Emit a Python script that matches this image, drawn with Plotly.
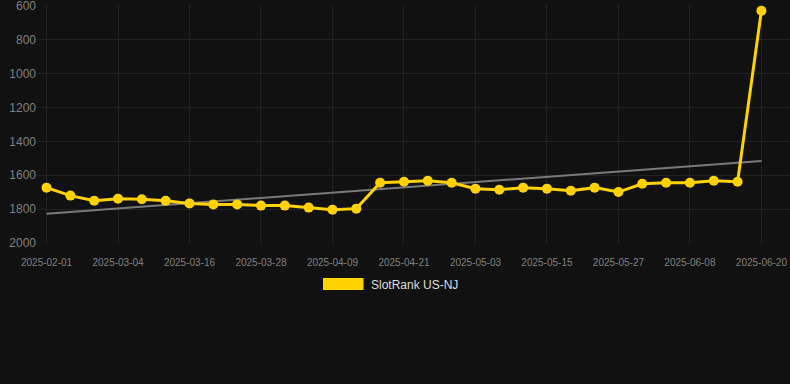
import numpy as np
import plotly.graph_objects as go

dates = ["2025-02-01", "2025-02-24", "2025-02-28", "2025-03-04", "2025-03-08", "2025-03-12",
         "2025-03-16", "2025-03-20", "2025-03-24", "2025-03-28", "2025-04-01", "2025-04-05",
         "2025-04-09", "2025-04-13", "2025-04-17", "2025-04-21", "2025-04-25", "2025-04-29",
         "2025-05-03", "2025-05-07", "2025-05-11", "2025-05-15", "2025-05-19", "2025-05-23",
         "2025-05-27", "2025-05-31", "2025-06-04", "2025-06-08", "2025-06-12", "2025-06-16",
         "2025-06-20"]
rank = [1673, 1720, 1750, 1738, 1742, 1750, 1766, 1772, 1772, 1779, 1779, 1791, 1803, 1797,
        1644, 1638, 1632, 1644, 1679, 1685, 1673, 1679, 1691, 1673, 1699, 1650, 1644, 1644,
        1632, 1638, 628]
tick_labels = dates[::3]
y_ticks = [600, 800, 1000, 1200, 1400, 1600, 1800, 2000]
series_name = "SlotRank US-NJ"

idx = np.arange(len(rank))
slope, intercept = np.polyfit(idx, rank, 1)
trend = list(slope * idx + intercept)

GOLD = "#FFD200"
W, H = 790, 384
L, R, T, B = 37, 0, 5, 140
pw, ph = W - L - R, H - T - B


def px(x):
    return (x - L) / pw


def py(y):
    return (H - B - y) / ph


fig = go.Figure()
fig.add_trace(go.Scatter(x=dates, y=trend, mode="lines",
                         line=dict(color="#7a7a7a", width=2), showlegend=False, hoverinfo="skip"))
fig.add_trace(go.Scatter(x=dates, y=rank, mode="lines+markers", name=series_name,
                         line=dict(color=GOLD, width=3), marker=dict(color=GOLD, size=10),
                         showlegend=False, cliponaxis=False))

fig.add_shape(type="rect", xref="paper", yref="paper",
              x0=px(323), x1=px(363.5), y0=py(290), y1=py(278),
              fillcolor=GOLD, line=dict(width=0))
fig.add_annotation(xref="paper", yref="paper", x=px(369), y=py(284.5), xanchor="left",
                   yanchor="middle", text=series_name, showarrow=False,
                   font=dict(family="Liberation Sans, Arial", size=12, color="#dddddd"))

fig.update_layout(
    width=W, height=H,
    margin=dict(l=L, r=R, t=T, b=B),
    paper_bgcolor="#111111", plot_bgcolor="#111111",
    font=dict(family="Liberation Sans, Arial", color="#808080"),
    xaxis=dict(type="category", categoryorder="array", categoryarray=dates,
               tickmode="array", tickvals=tick_labels, ticktext=tick_labels,
               range=[-0.4, 31.2], showgrid=True, gridcolor="#222222", gridwidth=1,
               ticks="outside", ticklen=9, tickcolor="rgba(0,0,0,0)",
               ticklabeloverflow="allow",
               zeroline=False, showline=False, tickfont=dict(size=10, color="#808080")),
    yaxis=dict(range=[2005.9, 594.1], tickmode="array", tickvals=y_ticks,
               showgrid=True, gridcolor="#222222", gridwidth=1, zeroline=False,
               ticklabeloverflow="allow",
               showline=False, tickfont=dict(size=12, color="#808080")),
    showlegend=False,
)

fig.write_html("out.html", config={"displayModeBar": False},
               post_script="document.body.style.margin='0';document.body.style.overflow='hidden';"
                           "document.body.style.background='#111111';")
